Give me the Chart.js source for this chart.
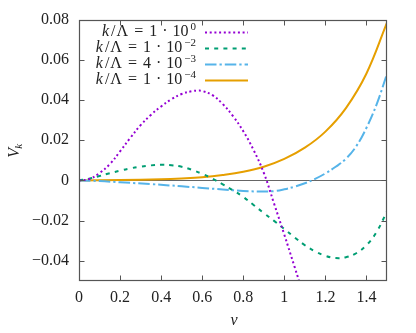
<!DOCTYPE html>
<html><head><meta charset="utf-8">
<script src="https://cdn.jsdelivr.net/npm/chart.js@4.4.0/dist/chart.umd.min.js"></script>
<style>html,body{margin:0;padding:0;background:#fff;}</style>
</head><body>
<canvas id="c" width="416" height="333" style="display:block;width:416px;height:333px"></canvas>
<script>
// ---- data ----
const xTicks = [0, 0.2, 0.4, 0.6, 0.8, 1.0, 1.2, 1.4];
const yTicks = [-0.04, -0.02, 0, 0.02, 0.04, 0.06, 0.08];

const legMant = ['1', '1', '4', '1'];
const legExp  = ['0', '\u22122', '\u22123', '\u22124'];
const seriesLabels = ['k/\u039b = 1\u00b710^0', 'k/\u039b = 1\u00b710^-2', 'k/\u039b = 4\u00b710^-3', 'k/\u039b = 1\u00b710^-4'];

const nuA = [0, 0.05, 0.10, 0.15, 0.20, 0.25, 0.30, 0.35, 0.40, 0.45, 0.50, 0.55, 0.58, 0.60, 0.65, 0.70, 0.75, 0.80, 0.85, 0.90, 0.95, 1.00, 1.05, 1.10];
const vA  = [0, 0.0007, 0.0037, 0.0081, 0.0145, 0.0212, 0.0275, 0.0326, 0.0368, 0.0404, 0.0430, 0.0444, 0.0447, 0.0445, 0.0424, 0.0380, 0.0320, 0.0245, 0.0152, 0.0038, -0.0115, -0.0270, -0.0430, -0.0590];

const nuB = [0, 0.05, 0.10, 0.15, 0.20, 0.25, 0.30, 0.35, 0.40, 0.45, 0.50, 0.55, 0.60, 0.65, 0.70, 0.75, 0.80, 0.85, 0.90, 0.95, 1.00, 1.05, 1.10, 1.15, 1.20, 1.25, 1.30, 1.35, 1.40, 1.45, 1.50];
const vB  = [0, 0.0009, 0.0022, 0.0036, 0.0049, 0.0060, 0.0069, 0.0075, 0.0078, 0.0076, 0.0068, 0.0053, 0.0033, 0.0009, -0.0019, -0.0049, -0.0082, -0.0122, -0.0162, -0.0201, -0.0241, -0.0283, -0.0322, -0.0353, -0.0375, -0.0386, -0.0382, -0.0362, -0.0322, -0.0255, -0.0154];

const nuC = [0, 0.10, 0.20, 0.35, 0.50, 0.60, 0.70, 0.80, 0.88, 0.95, 1.00, 1.05, 1.10, 1.15, 1.20, 1.25, 1.30, 1.35, 1.40, 1.45, 1.50];
const vC  = [0, -0.0003, -0.0009, -0.0018, -0.0029, -0.0037, -0.0045, -0.0052, -0.0055, -0.0053, -0.0044, -0.0031, -0.0014, 0.0008, 0.0035, 0.0068, 0.0108, 0.0170, 0.0262, 0.0380, 0.0530];

const nuD = [0, 0.20, 0.40, 0.50, 0.60, 0.70, 0.80, 0.90, 1.00, 1.10, 1.20, 1.30, 1.40, 1.50];
const vD  = [0, 0.0002, 0.0006, 0.0010, 0.0016, 0.0027, 0.0043, 0.0068, 0.0107, 0.0163, 0.0243, 0.0360, 0.0532, 0.0785];

const colors = ['#9400d3', '#009e73', '#56b4e9', '#e69f00'];
const dashes = [[2, 2.7], [4, 5.2], [11.5, 3, 2.3, 3], []];

const pts = (xs, ys) => xs.map((x, i) => ({x: x, y: ys[i]}));
const series = [pts(nuA, vA), pts(nuB, vB), pts(nuC, vC), pts(nuD, vD)];

const FONT = '"Liberation Serif", "Times New Roman", serif';
const fmt = v => (Math.round(v * 100) / 100).toString().replace('-', '\u2212');

const deco = {
  id: 'deco',
  afterDatasetsDraw(chart) {
    const {ctx, chartArea: a, scales: {x, y}} = chart;
    ctx.save();
    ctx.strokeStyle = '#555';
    ctx.lineWidth = 1;
    ctx.setLineDash([]);
    const L = Math.round(a.left) + 0.5, R = Math.round(a.right) - 0.5;
    const T = Math.round(a.top) + 0.5, B = Math.round(a.bottom) - 0.5;
    ctx.beginPath();
    xTicks.forEach(v => {
      const p = Math.round(x.getPixelForValue(v)) + 0.5;
      ctx.moveTo(p, B); ctx.lineTo(p, B - 5);
      ctx.moveTo(p, T); ctx.lineTo(p, T + 5);
    });
    yTicks.forEach(v => {
      const p = Math.round(y.getPixelForValue(v)) + 0.5;
      ctx.moveTo(L, p); ctx.lineTo(L + 5, p);
      ctx.moveTo(R, p); ctx.lineTo(R - 5, p);
    });
    ctx.stroke();
    ctx.lineWidth = 1.2;
    ctx.strokeRect(L, T, R - L, B - T);

    // legend
    ctx.fillStyle = '#222';
    ctx.textBaseline = 'alphabetic';
    const rowY = [32, 48, 64, 80];
    chart.data.datasets.forEach((ds, i) => {
      const yc = rowY[i];
      ctx.save();
      ctx.strokeStyle = ds.borderColor;
      ctx.lineWidth = 2;
      ctx.setLineDash(ds.borderDash || []);
      ctx.beginPath();
      ctx.moveTo(205, yc + 0.5); ctx.lineTo(248, yc + 0.5);
      ctx.stroke();
      ctx.restore();
      const pieces = [
        {f: 'italic 16px ' + FONT, t: 'k', g: 0, dy: 0},
        {f: '16px ' + FONT, t: '/', g: 2, dy: 0},
        {f: '16px ' + FONT, t: '\u039b', g: 1, dy: 0},
        {f: '16px ' + FONT, t: '=', g: 6, dy: 0},
        {f: '16px ' + FONT, t: legMant[i], g: 6, dy: 0},
        {f: '16px ' + FONT, t: '\u00b7', g: 5, dy: 0},
        {f: '16px ' + FONT, t: '10', g: 5, dy: 0},
        {f: '11px ' + FONT, t: legExp[i], g: 2, dy: -6}
      ];
      let w = 0;
      pieces.forEach(p => { ctx.font = p.f; p.w = ctx.measureText(p.t).width; w += p.g + p.w; });
      let cx = 196 - w;
      pieces.forEach(p => { cx += p.g; ctx.font = p.f; ctx.fillText(p.t, cx, yc + 4 + p.dy); cx += p.w; });
    });

    // axis titles
    ctx.save();
    ctx.translate(19, (a.top + a.bottom) / 2);
    ctx.rotate(-Math.PI / 2);
    ctx.font = 'italic 16px ' + FONT;
    const wV = ctx.measureText('V').width;
    ctx.font = 'italic 11px ' + FONT;
    const wk = ctx.measureText('k').width;
    let sx = -(wV + wk) / 2;
    ctx.font = 'italic 16px ' + FONT;
    ctx.fillText('V', sx, 0);
    ctx.font = 'italic 11px ' + FONT;
    ctx.fillText('k', sx + wV - 1, 3);
    ctx.restore();

    ctx.font = 'italic 16px ' + FONT;
    ctx.textAlign = 'center';
    ctx.fillText('\u03bd', (a.left + a.right) / 2 + 1, 325);
    ctx.restore();
  }
};

new Chart(document.getElementById('c'), {
  type: 'line',
  data: {
    datasets: series.map((d, i) => ({
      label: seriesLabels[i],
      data: d,
      borderColor: colors[i],
      backgroundColor: colors[i],
      borderDash: dashes[i],
      borderWidth: 2,
      pointRadius: 0,
      fill: false,
      tension: 0.4,
      clip: 0
    }))
  },
  options: {
    responsive: false,
    animation: false,
    devicePixelRatio: 1,
    layout: {padding: {top: 19, right: 29, bottom: 0, left: 0}},
    plugins: {legend: {display: false}, tooltip: {enabled: false}},
    scales: {
      x: {
        type: 'linear', min: 0, max: 1.5,
        afterBuildTicks: s => { s.ticks = xTicks.map(v => ({value: v})); },
        afterFit: s => { s.height = 52; },
        ticks: {callback: v => fmt(v), font: {family: FONT, size: 16}, color: '#222', padding: 7, maxRotation: 0, autoSkip: false},
        grid: {display: false, drawTicks: false},
        border: {display: false}
      },
      y: {
        type: 'linear', min: -0.05, max: 0.08,
        afterBuildTicks: s => { s.ticks = yTicks.map(v => ({value: v})); },
        afterFit: s => { s.width = 79; },
        ticks: {callback: v => fmt(v), font: {family: FONT, size: 16}, color: '#222', padding: 10, autoSkip: false},
        grid: {drawTicks: false, lineWidth: 1, color: c => (c.tick && Math.abs(c.tick.value) < 1e-9) ? '#666' : 'rgba(0,0,0,0)'},
        border: {display: false}
      }
    }
  },
  plugins: [deco]
});
</script>
</body></html>
